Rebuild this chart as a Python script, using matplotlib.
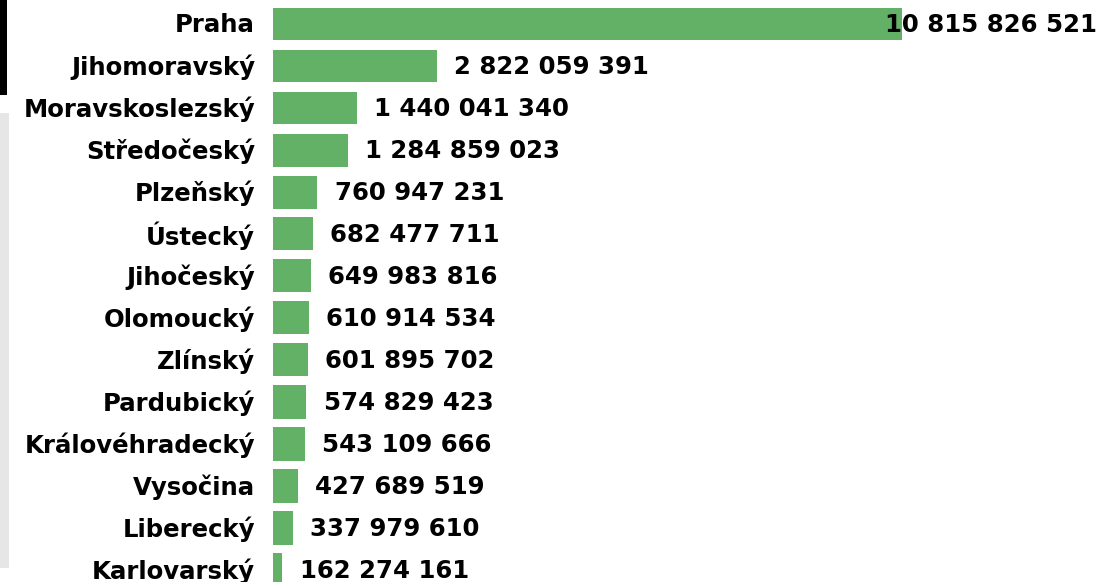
import matplotlib
matplotlib.use("Agg")
import matplotlib.pyplot as plt
from matplotlib.patches import Rectangle

regions = ["Praha", "Jihomoravský", "Moravskoslezský", "Středočeský", "Plzeňský",
           "Ústecký", "Jihočeský", "Olomoucký", "Zlínský", "Pardubický",
           "Královéhradecký", "Vysočina", "Liberecký", "Karlovarský"]
values = [10815826521, 2822059391, 1440041340, 1284859023, 760947231,
          682477711, 649983816, 610914534, 601895702, 574829423,
          543109666, 427689519, 337979610, 162274161]

W, H = 1102, 582
DPI = 100
FONT = "DejaVu Sans"
FS = 17.6
GREEN = "#63b067"

fig = plt.figure(figsize=(W / DPI, H / DPI), dpi=DPI)
fig.patch.set_facecolor("white")

# decorative left strips
fig.add_artist(Rectangle((0, 1 - 95 / H), 7 / W, 95 / H, transform=fig.transFigure,
                         facecolor="black", edgecolor="none"))
fig.add_artist(Rectangle((0, 1 - 568 / H), 9 / W, (568 - 113) / H, transform=fig.transFigure,
                         facecolor="#e6e6e6", edgecolor="none"))

left_px = 273
ax = fig.add_axes([left_px / W, 0, (W - left_px) / W, 1])
ax.set_axis_off()
row = 42.0
xmax = (W - left_px) / 629.0 * values[0]
ax.set_xlim(0, xmax)
ax.set_ylim((H - 24) / row, -24 / row)

ypos = list(range(len(regions)))
ax.barh(ypos, values, height=33 / row, color=GREEN, edgecolor="none")

for y, name, v in zip(ypos, regions, values):
    ax.annotate(name, xy=(0, y), xytext=(-13, -1), textcoords="offset points",
                ha="right", va="center", fontsize=FS, fontweight="bold",
                family=FONT, color="black", annotation_clip=False)
    label = f"{v:,}".replace(",", " ")
    if y == 0:
        ax.annotate(label, xy=(1 - 5 / (W - left_px), y), xycoords=ax.get_yaxis_transform(),
                    xytext=(0, -1), textcoords="offset points",
                    ha="right", va="center", fontsize=FS, fontweight="bold",
                    family=FONT, color="black")
    else:
        ax.annotate(label, xy=(v, y), xytext=(12.5, -1), textcoords="offset points",
                    ha="left", va="center", fontsize=FS, fontweight="bold",
                    family=FONT, color="black", annotation_clip=False)

fig.savefig("out.png", dpi=DPI)
